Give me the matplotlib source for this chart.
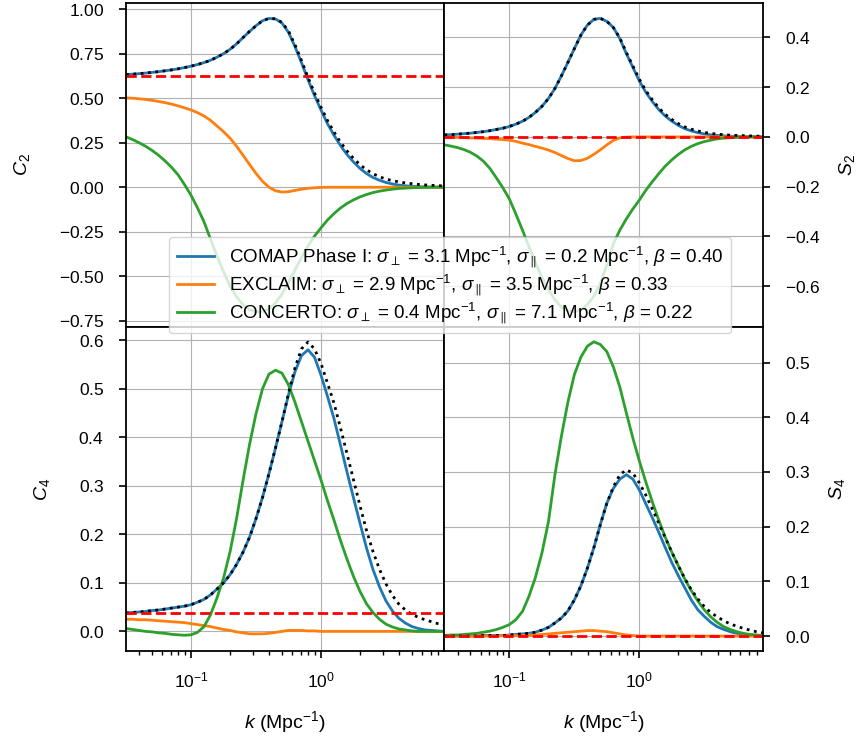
import numpy as np
import matplotlib.pyplot as plt

plt.rcParams['font.family'] = ['Liberation Sans', 'DejaVu Sans']
plt.rcParams['font.size'] = 14
plt.rcParams['mathtext.fontset'] = 'custom'
plt.rcParams['mathtext.rm'] = 'Liberation Sans'
plt.rcParams['mathtext.it'] = 'Liberation Sans:italic'
plt.rcParams['mathtext.bf'] = 'Liberation Sans:bold'
plt.rcParams['axes.formatter.use_mathtext'] = True
plt.rcParams['axes.linewidth'] = 1.3
for ax_name in ['xtick', 'ytick']:
    plt.rcParams[ax_name + '.labelsize'] = 12.5
    plt.rcParams[ax_name + '.major.size'] = 4.8
    plt.rcParams[ax_name + '.major.width'] = 1.2
    plt.rcParams[ax_name + '.minor.width'] = 1.0
    plt.rcParams[ax_name + '.minor.size'] = 2.8
plt.rcParams['ytick.major.pad'] = 11
plt.rcParams['xtick.major.pad'] = 9
plt.rcParams['xtick.minor.pad'] = 9

# wavenumbers (Mpc^-1)
k = [0.0316, 0.0355, 0.0398, 0.0447, 0.0501, 0.0562, 0.0631, 0.0708, 0.0794, 0.0891,
     0.1, 0.112, 0.126, 0.141, 0.158, 0.178, 0.2, 0.224, 0.251, 0.282,
     0.316, 0.355, 0.398, 0.447, 0.501, 0.562, 0.631, 0.708, 0.794, 0.891,
     1.0, 1.12, 1.26, 1.41, 1.58, 1.78, 2.0, 2.24, 2.51, 2.82,
     3.16, 3.55, 3.98, 4.47, 5.01, 5.62, 6.31, 7.08, 7.94, 8.91]

labels = [r"COMAP Phase I: $\sigma_\perp$ = 3.1 Mpc$^{-1}$, $\sigma_\parallel$ = 0.2 Mpc$^{-1}$, $\beta$ = 0.40",
          r"EXCLAIM: $\sigma_\perp$ = 2.9 Mpc$^{-1}$, $\sigma_\parallel$ = 3.5 Mpc$^{-1}$, $\beta$ = 0.33",
          r"CONCERTO: $\sigma_\perp$ = 0.4 Mpc$^{-1}$, $\sigma_\parallel$ = 7.1 Mpc$^{-1}$, $\beta$ = 0.22"]

# ---- C2 ----
c2_comap = [0.633, 0.635, 0.638, 0.641, 0.645, 0.649, 0.654, 0.659, 0.665, 0.672,
            0.680, 0.689, 0.700, 0.713, 0.730, 0.750, 0.775, 0.805, 0.840, 0.875,
            0.907, 0.935, 0.948, 0.945, 0.922, 0.870, 0.790, 0.700, 0.605, 0.515,
            0.434, 0.358, 0.292, 0.235, 0.185, 0.142, 0.105, 0.077, 0.055, 0.039,
            0.027, 0.018, 0.012, 0.008, 0.005, 0.003, 0.002, 0.001, 0.001, 0.0]
c2_exclaim = [0.502, 0.500, 0.497, 0.493, 0.488, 0.482, 0.475, 0.467, 0.457, 0.446,
              0.434, 0.419, 0.400, 0.376, 0.345, 0.312, 0.275, 0.230, 0.180, 0.128,
              0.078, 0.033, 0.000, -0.020, -0.027, -0.025, -0.018, -0.011, -0.006, -0.003,
              -0.001, 0, 0, 0, 0, 0, 0, 0, 0, 0,
              0, 0, 0, 0, 0, 0, 0, 0, 0, 0]
c2_concerto = [0.283, 0.268, 0.250, 0.230, 0.207, 0.180, 0.148, 0.112, 0.070, 0.015,
               -0.045, -0.115, -0.195, -0.290, -0.385, -0.475, -0.555, -0.615, -0.660, -0.688,
               -0.700, -0.698, -0.682, -0.650, -0.600, -0.535, -0.465, -0.395, -0.330, -0.275,
               -0.228, -0.185, -0.148, -0.117, -0.092, -0.071, -0.054, -0.041, -0.030, -0.022,
               -0.016, -0.011, -0.007, -0.005, -0.003, -0.002, -0.001, 0, 0, 0]
c2_full = [0.633, 0.635, 0.638, 0.641, 0.645, 0.649, 0.654, 0.659, 0.665, 0.672,
           0.680, 0.689, 0.700, 0.713, 0.730, 0.750, 0.775, 0.805, 0.840, 0.875,
           0.907, 0.935, 0.948, 0.946, 0.926, 0.878, 0.800, 0.712, 0.618, 0.530,
           0.450, 0.376, 0.310, 0.254, 0.205, 0.162, 0.126, 0.098, 0.076, 0.059,
           0.046, 0.037, 0.030, 0.024, 0.020, 0.016, 0.013, 0.011, 0.009, 0.007]

# ---- S2 ----
s2_comap = [0.008, 0.009, 0.011, 0.013, 0.015, 0.018, 0.021, 0.025, 0.030, 0.035,
            0.042, 0.051, 0.063, 0.078, 0.098, 0.123, 0.155, 0.195, 0.245, 0.300,
            0.355, 0.410, 0.450, 0.473, 0.477, 0.465, 0.440, 0.395, 0.335, 0.280,
            0.225, 0.180, 0.142, 0.110, 0.084, 0.063, 0.046, 0.033, 0.024, 0.017,
            0.012, 0.008, 0.006, 0.004, 0.003, 0.002, 0.001, 0.001, 0.0, 0.0]
s2_exclaim = [-0.001, -0.001, -0.002, -0.003, -0.004, -0.005, -0.006, -0.007, -0.009, -0.011,
              -0.013, -0.018, -0.025, -0.031, -0.038, -0.045, -0.053, -0.063, -0.075, -0.087,
              -0.096, -0.095, -0.086, -0.070, -0.052, -0.032, -0.014, -0.004, -0.001, 0,
              0, 0, 0, 0, 0, 0, 0, 0, 0, 0,
              0, 0, 0, 0, 0, 0, 0, 0, 0, 0]
s2_concerto = [-0.032, -0.037, -0.043, -0.051, -0.062, -0.077, -0.098, -0.127, -0.165, -0.205,
               -0.250, -0.310, -0.375, -0.440, -0.505, -0.565, -0.615, -0.655, -0.685, -0.700,
               -0.703, -0.697, -0.675, -0.640, -0.590, -0.515, -0.430, -0.375, -0.330, -0.290,
               -0.254, -0.215, -0.180, -0.148, -0.118, -0.092, -0.070, -0.052, -0.038, -0.027,
               -0.019, -0.013, -0.008, -0.005, -0.003, -0.002, -0.001, 0, 0, 0]
s2_full = [0.008, 0.009, 0.011, 0.013, 0.015, 0.018, 0.021, 0.025, 0.030, 0.035,
           0.042, 0.051, 0.063, 0.078, 0.098, 0.123, 0.155, 0.195, 0.245, 0.300,
           0.355, 0.410, 0.450, 0.473, 0.477, 0.465, 0.440, 0.398, 0.340, 0.286,
           0.232, 0.187, 0.149, 0.117, 0.091, 0.070, 0.053, 0.040, 0.031, 0.024,
           0.018, 0.014, 0.011, 0.009, 0.007, 0.006, 0.005, 0.004, 0.003, 0.003]

# ---- C4 ----
c4_comap = [0.038, 0.039, 0.040, 0.041, 0.043, 0.044, 0.046, 0.048, 0.050, 0.052,
            0.055, 0.060, 0.066, 0.075, 0.087, 0.100, 0.117, 0.138, 0.163, 0.194,
            0.232, 0.276, 0.325, 0.378, 0.432, 0.487, 0.535, 0.568, 0.580, 0.565,
            0.528, 0.485, 0.438, 0.385, 0.330, 0.275, 0.222, 0.172, 0.128, 0.092,
            0.063, 0.042, 0.027, 0.017, 0.010, 0.006, 0.003, 0.002, 0.001, 0.0]
c4_exclaim = [0.025, 0.025, 0.024, 0.024, 0.023, 0.022, 0.021, 0.020, 0.019, 0.018,
              0.016, 0.014, 0.012, 0.010, 0.007, 0.004, 0.002, -0.001, -0.003, -0.005,
              -0.005, -0.005, -0.004, -0.002, 0.000, 0.002, 0.002, 0.002, 0.001, 0.001,
              0.0, 0, 0, 0, 0, 0, 0, 0, 0, 0,
              0, 0, 0, 0, 0, 0, 0, 0, 0, 0]
c4_concerto = [0.006, 0.004, 0.002, 0.000, -0.001, -0.003, -0.004, -0.006, -0.007, -0.008,
               -0.007, -0.002, 0.010, 0.034, 0.068, 0.110, 0.165, 0.232, 0.310, 0.385,
               0.448, 0.500, 0.530, 0.538, 0.532, 0.508, 0.472, 0.432, 0.392, 0.352,
               0.312, 0.270, 0.229, 0.188, 0.150, 0.113, 0.082, 0.057, 0.039, 0.025,
               0.015, 0.009, 0.005, 0.003, 0.001, 0, 0, 0, 0, 0]
c4_full = [0.038, 0.039, 0.040, 0.041, 0.043, 0.044, 0.046, 0.048, 0.050, 0.052,
           0.055, 0.060, 0.066, 0.075, 0.087, 0.100, 0.117, 0.138, 0.163, 0.194,
           0.232, 0.276, 0.325, 0.378, 0.432, 0.490, 0.543, 0.582, 0.596, 0.582,
           0.552, 0.512, 0.470, 0.420, 0.368, 0.312, 0.258, 0.208, 0.165, 0.128,
           0.098, 0.074, 0.056, 0.044, 0.035, 0.029, 0.024, 0.020, 0.016, 0.013]

# ---- S4 ----
s4_comap = [0, 0, 0, 0, 0, 0, 0.001, 0.001, 0.001, 0.001,
            0.002, 0.003, 0.004, 0.005, 0.007, 0.011, 0.016, 0.024, 0.033, 0.046,
            0.066, 0.092, 0.124, 0.162, 0.204, 0.243, 0.270, 0.287, 0.295, 0.287,
            0.267, 0.242, 0.216, 0.190, 0.162, 0.134, 0.110, 0.088, 0.066, 0.048,
            0.036, 0.025, 0.017, 0.012, 0.008, 0.005, 0.003, 0.002, 0.001, 0.001]
s4_exclaim = [0, 0, 0, 0, 0, 0, 0, 0, 0, 0.001,
              0.001, 0.001, 0.001, 0.002, 0.002, 0.003, 0.004, 0.005, 0.006, 0.007,
              0.008, 0.009, 0.010, 0.010, 0.009, 0.008, 0.006, 0.004, 0.002, 0.001,
              0, 0, 0, 0, 0, 0, 0, 0, 0, 0,
              0, 0, 0, 0, 0, 0, 0, 0, 0, 0]
s4_concerto = [0.001, 0.002, 0.002, 0.003, 0.004, 0.005, 0.007, 0.009, 0.012, 0.016,
               0.021, 0.030, 0.045, 0.072, 0.106, 0.152, 0.210, 0.295, 0.365, 0.428,
               0.478, 0.510, 0.530, 0.538, 0.533, 0.520, 0.492, 0.455, 0.408, 0.362,
               0.320, 0.282, 0.245, 0.212, 0.181, 0.153, 0.128, 0.104, 0.083, 0.064,
               0.048, 0.035, 0.025, 0.017, 0.012, 0.008, 0.005, 0.003, 0.002, 0.001]
s4_full = [0, 0, 0, 0, 0, 0, 0.001, 0.001, 0.001, 0.001,
           0.002, 0.003, 0.004, 0.005, 0.007, 0.011, 0.016, 0.024, 0.033, 0.046,
           0.066, 0.092, 0.124, 0.162, 0.204, 0.243, 0.273, 0.295, 0.304, 0.298,
           0.280, 0.258, 0.232, 0.206, 0.180, 0.153, 0.128, 0.105, 0.085, 0.068,
           0.054, 0.043, 0.035, 0.028, 0.022, 0.018, 0.014, 0.011, 0.008, 0.006]

# Kaiser limit for each multipole
kaiser = {'C2': 0.625, 'S2': 0.0, 'C4': 0.037, 'S4': 0.0}

panels = [('C2', c2_comap, c2_exclaim, c2_concerto, c2_full, (-0.785, 1.035)),
          ('S2', s2_comap, s2_exclaim, s2_concerto, s2_full, (-0.765, 0.539)),
          ('C4', c4_comap, c4_exclaim, c4_concerto, c4_full, (-0.0405, 0.627)),
          ('S4', s4_comap, s4_exclaim, s4_concerto, s4_full, (-0.0274, 0.565))]

fig, axes = plt.subplots(2, 2, figsize=(8.59, 7.39), dpi=100, sharex=True)
fig.subplots_adjust(left=0.1467, right=0.888, top=0.996, bottom=0.119, hspace=0, wspace=0)

for ax, (name, comap, exclaim, concerto, full, ylim) in zip(axes.flat, panels):
    h1, = ax.plot(k, comap, color='tab:blue', lw=2)
    h2, = ax.plot(k, exclaim, color='tab:orange', lw=2)
    h3, = ax.plot(k, concerto, color='tab:green', lw=2)
    ax.plot(k, full, color='black', ls=':', lw=2)
    ax.axhline(kaiser[name], color='red', ls='--', lw=2)
    ax.set_xscale('log')
    ax.set_xlim(k[0], k[-1])
    ax.set_ylim(*ylim)
    ax.grid(True)
    if name[0] == 'S':
        ax.yaxis.tick_right()
        ax.yaxis.set_label_position('right')
        ax.set_ylabel('$%s_%s$' % (name[0], name[1]), labelpad=12)
    else:
        ax.set_ylabel('$%s_%s$' % (name[0], name[1]), labelpad=19)
    if name[1] == '4':
        ax.set_xlabel(r'$k$ (Mpc$^{-1}$)', labelpad=14)
    handles = [h1, h2, h3]

fig.legend(handles, labels, loc='center', bbox_to_anchor=(0.5242, 0.6139),
           fontsize=13.5, labelspacing=0.15)

plt.savefig('out.png', dpi=100)
